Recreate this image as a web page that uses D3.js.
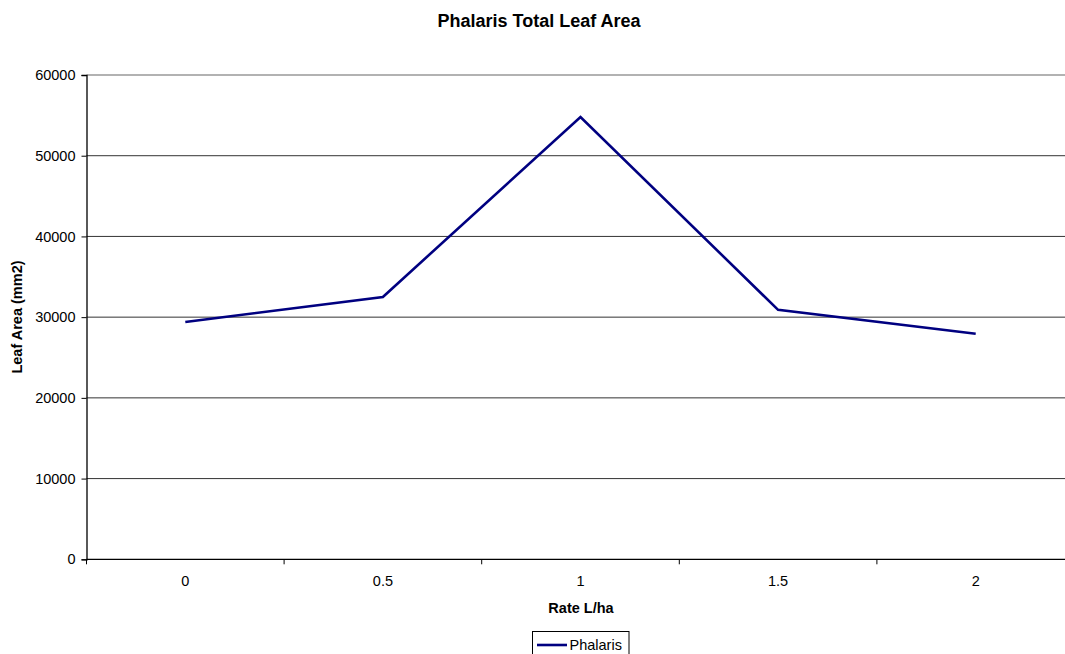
<!DOCTYPE html>
<html>
<head>
<meta charset="utf-8">
<script src="https://cdn.jsdelivr.net/npm/d3@7"></script>
<style>
  html, body { margin: 0; padding: 0; background: #fff; }
  svg { display: block; font-family: "Liberation Sans", Arial, sans-serif; }
</style>
</head>
<body>
<svg id="chart" width="1065" height="654"></svg>
<script>
const categories = ["0", "0.5", "1", "1.5", "2"];
const phalarisValues = [29400, 32500, 54800, 30900, 27950];
const yTicks = [0, 10000, 20000, 30000, 40000, 50000, 60000];
const seriesName = "Phalaris";
const chartTitle = "Phalaris Total Leaf Area";
const xTitle = "Rate L/ha";
const yTitle = "Leaf Area (mm2)";

(function () {
const svg = d3.select("#chart");
const pLeft = 86.5, pRight = 1074.5, pTop = 75, pBottom = 559.3;
const fs = 14.5;

const x = d3.scaleBand().domain(categories).range([pLeft, pRight]).padding(0);
const y = d3.scaleLinear().domain([0, 60000]).range([pBottom, pTop]);

// gridlines
svg.append("g").selectAll("line").data(yTicks.filter(d => d > 0)).join("line")
  .attr("x1", pLeft).attr("x2", pRight)
  .attr("y1", d => y(d)).attr("y2", d => y(d))
  .attr("stroke", d => d === 60000 ? "#999" : "#333")
  .attr("stroke-width", d => d === 60000 ? 1.5 : 1);

// y axis
const yAxis = svg.append("g").attr("transform", `translate(${pLeft},0)`)
  .call(d3.axisLeft(y).tickValues(yTicks).tickSize(5).tickPadding(6).tickFormat(d3.format("d")));
yAxis.select(".domain").attr("stroke", "#000").attr("stroke-width", 1.3);
yAxis.selectAll(".tick line").attr("stroke", "#000");
yAxis.selectAll("text").attr("font-size", fs).attr("fill", "#000").attr("font-family", "Liberation Sans, Arial, sans-serif");

// x axis
const xAxisG = svg.append("g").attr("transform", `translate(0,${pBottom})`);
xAxisG.append("line").attr("x1", pLeft).attr("x2", pRight).attr("stroke", "#000").attr("stroke-width", 1.3);
const boundaries = categories.map(c => x(c)).concat([x(categories[categories.length - 1]) + x.bandwidth()]);
xAxisG.selectAll(".xt").data(boundaries).join("line")
  .attr("x1", d => d).attr("x2", d => d).attr("y1", 0).attr("y2", 5)
  .attr("stroke", "#000");
xAxisG.selectAll(".xl").data(categories).join("text")
  .attr("x", d => x(d) + x.bandwidth() / 2)
  .attr("y", 27)
  .attr("text-anchor", "middle")
  .attr("font-size", fs)
  .text(d => d);

// line
const line = d3.line()
  .x((d, i) => x(categories[i]) + x.bandwidth() / 2)
  .y(d => y(d));
svg.append("path").datum(phalarisValues)
  .attr("d", line)
  .attr("fill", "none")
  .attr("stroke", "#000080")
  .attr("stroke-width", 2.6)
  .attr("stroke-linejoin", "miter");

// titles
svg.append("text").attr("x", 539).attr("y", 27).attr("text-anchor", "middle")
  .attr("font-size", 18).attr("font-weight", "bold").text(chartTitle);
svg.append("text").attr("x", 581).attr("y", 612.7).attr("text-anchor", "middle")
  .attr("font-size", fs).attr("font-weight", "bold").text(xTitle);
svg.append("text").attr("transform", "translate(22,317) rotate(-90)").attr("text-anchor", "middle")
  .attr("font-size", fs).attr("font-weight", "bold").text(yTitle);

// legend
const lg = svg.append("g");
lg.append("rect").attr("x", 532.5).attr("y", 631.5).attr("width", 96.5).attr("height", 30)
  .attr("fill", "#fff").attr("stroke", "#000").attr("stroke-width", 1);
lg.append("line").attr("x1", 537).attr("x2", 567).attr("y1", 645).attr("y2", 645)
  .attr("stroke", "#000080").attr("stroke-width", 2.6);
lg.append("text").attr("x", 569.5).attr("y", 649.5).attr("font-size", fs).text(seriesName);
})();
</script>
</body>
</html>
